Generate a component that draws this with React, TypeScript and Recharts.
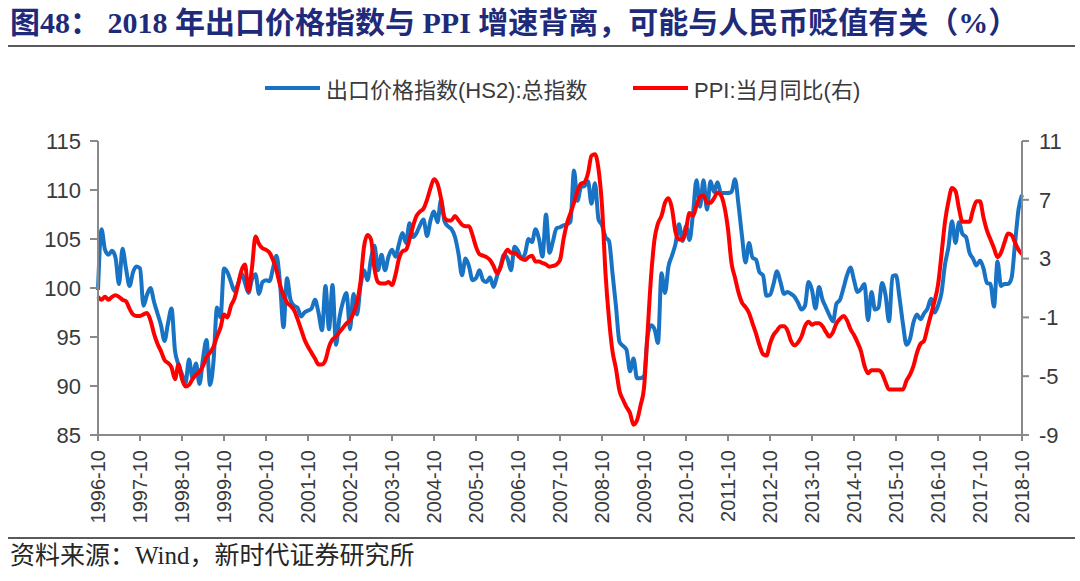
import React from 'react';
import { LineChart, Line, XAxis, YAxis } from 'recharts';

// monthly series, first point is 1996-10, last point 2018-10
const START_YEAR = 1996;
const START_MONTH = 10;

// 出口价格指数(HS2):总指数
const exportPriceIndex = [
  99.8, 106.0, 103.9, 103.4, 103.8, 103.1, 100.4, 104.0, 102.0, 100.2, 101.6, 102.2, // 1996-10
  102.0, 98.2, 99.3, 100.0, 98.6, 97.4, 96.2, 94.6, 96.4, 97.9, 93.6, 92.2, // 1997-10
  91.2, 90.3, 92.7, 90.8, 92.3, 90.2, 92.8, 94.7, 90.1, 92.5, 98.0, 97.0, // 1998-10
  102.0, 101.6, 100.6, 99.7, 100.4, 101.5, 100.5, 99.5, 100.9, 101.4, 99.4, 100.6, // 1999-10
  100.8, 100.7, 102.0, 103.3, 100.5, 96.0, 101.0, 98.8, 98.2, 98.0, 97.1, 97.5, // 2000-10
  97.7, 97.9, 98.8, 97.5, 95.7, 100.2, 95.8, 100.3, 94.2, 97.0, 98.6, 99.5, // 2001-10
  95.8, 99.4, 97.3, 100.2, 101.8, 100.8, 103.0, 104.3, 101.8, 103.4, 101.8, 103.2, // 2002-10
  103.9, 103.2, 104.5, 105.6, 104.6, 106.6, 105.2, 105.6, 106.4, 107.0, 105.3, 106.9, // 2003-10
  107.8, 106.7, 109.0, 106.8, 106.3, 106.0, 105.2, 103.5, 101.3, 103.0, 102.2, 100.8, // 2004-10
  101.0, 101.8, 100.8, 100.6, 101.1, 100.1, 101.2, 102.2, 103.4, 103.0, 101.8, 104.2, // 2005-10
  103.8, 103.0, 103.5, 105.0, 104.7, 106.0, 105.0, 103.2, 107.5, 103.6, 104.8, 106.1, // 2006-10
  106.2, 106.4, 106.5, 106.8, 112.0, 108.9, 110.3, 110.4, 110.9, 108.6, 110.7, 107.0, // 2007-10
  106.4, 105.2, 104.8, 101.5, 98.1, 94.5, 94.1, 93.7, 91.5, 92.8, 90.8, 90.8, // 2008-10
  91.0, 95.0, 96.2, 95.8, 94.4, 101.5, 99.5, 102.2, 103.3, 104.5, 106.5, 104.8, // 2009-10
  106.3, 104.9, 107.6, 111.0, 108.3, 111.0, 108.0, 110.9, 109.8, 110.8, 109.7, 109.7, // 2010-10
  109.7, 109.8, 111.1, 108.5, 105.3, 102.6, 104.6, 103.1, 102.9, 101.6, 101.3, 99.2, // 2011-10
  99.3, 100.4, 101.7, 100.6, 99.4, 99.6, 99.4, 99.1, 98.5, 97.8, 98.2, 100.6, // 2012-10
  99.8, 97.9, 100.1, 98.8, 98.0, 97.2, 96.6, 98.4, 98.8, 100.0, 101.3, 102.1, // 2013-10
  100.8, 99.6, 99.9, 100.4, 96.7, 99.6, 97.8, 98.0, 100.5, 99.3, 96.6, 101.2, // 2014-10
  101.3, 99.0, 96.3, 94.2, 94.8, 96.5, 97.3, 96.8, 97.4, 97.9, 98.9, 97.5, // 2015-10
  98.2, 99.5, 102.4, 104.2, 106.8, 104.6, 106.7, 105.5, 105.2, 103.6, 103.0, 102.3, // 2016-10
  102.8, 102.0, 100.5, 100.4, 98.1, 102.7, 100.2, 100.4, 100.4, 101.0, 104.5, 108.0, // 2017-10
  109.5, // 2018-10
];

// PPI:当月同比, %
const ppiYoY = [
  0.4, 0.2, 0.4, 0.2, 0.4, 0.5, 0.4, 0.2, 0.1, -0.4, -0.8, -0.9, // 1996-10
  -0.9, -0.8, -0.7, -1.2, -2.1, -2.8, -3.3, -3.9, -4.1, -4.4, -5.2, -4.2, // 1997-10
  -5.2, -5.7, -5.6, -5.2, -4.9, -4.7, -4.3, -3.7, -3.4, -3.0, -2.3, -1.7, // 1998-10
  -0.8, -1.0, -0.2, 0.3, 1.2, 2.2, 2.6, 0.8, 2.4, 4.5, 4.0, 3.7, // 1999-10
  3.6, 3.4, 2.9, 2.2, 1.2, 0.5, 0.0, -0.2, -0.5, -1.1, -1.8, -2.5, // 2000-10
  -3.0, -3.4, -3.8, -4.2, -4.2, -3.9, -3.0, -2.5, -2.3, -2.0, -1.7, -1.4, // 2001-10
  -1.2, -0.7, 0.0, 1.4, 3.8, 4.6, 4.3, 2.3, 1.4, 1.3, 1.3, 1.4, // 2002-10
  1.2, 1.9, 3.0, 3.5, 3.6, 4.3, 5.2, 5.9, 6.2, 6.4, 7.0, 7.8, // 2003-10
  8.4, 8.1, 7.1, 5.8, 5.6, 5.6, 5.9, 5.6, 5.3, 5.2, 5.2, 4.6, // 2004-10
  3.8, 3.3, 3.2, 3.1, 2.9, 2.5, 2.0, 2.4, 3.2, 3.6, 3.4, 3.4, // 2005-10
  3.2, 3.0, 2.9, 3.1, 3.2, 2.8, 2.8, 2.7, 2.6, 2.45, 2.5, 2.6, // 2006-10
  2.9, 4.3, 5.4, 6.1, 6.8, 7.6, 8.1, 8.2, 8.8, 10.0, 10.1, 9.1, // 2007-10
  6.6, 2.0, -1.1, -3.3, -4.5, -6.0, -6.6, -7.1, -7.5, -8.3, -8.0, -7.0, // 2008-10
  -5.8, -2.1, 1.7, 4.3, 5.4, 5.9, 6.8, 7.1, 6.4, 4.8, 4.3, 4.3, // 2009-10
  5.0, 6.1, 5.9, 6.6, 7.2, 7.3, 6.8, 6.8, 7.1, 7.5, 7.3, 6.5, // 2010-10
  5.0, 2.7, 1.7, 0.7, 0.0, -0.3, -0.7, -1.4, -2.1, -2.9, -3.5, -3.6, // 2011-10
  -2.8, -2.2, -1.9, -1.6, -1.6, -1.9, -2.6, -2.9, -2.7, -2.3, -1.6, -1.3, // 2012-10
  -1.5, -1.4, -1.4, -1.6, -2.0, -2.3, -2.0, -1.4, -1.1, -0.9, -1.2, -1.8, // 2013-10
  -2.2, -2.7, -3.3, -4.3, -4.8, -4.6, -4.6, -4.6, -4.8, -5.4, -5.9, -5.9, // 2014-10
  -5.9, -5.9, -5.9, -5.3, -4.9, -4.3, -3.4, -2.8, -2.6, -1.7, -0.8, 0.1, // 2015-10
  1.2, 3.3, 5.5, 6.9, 7.8, 7.6, 6.4, 5.5, 5.5, 5.5, 6.3, 6.9, // 2016-10
  6.9, 5.8, 4.9, 4.3, 3.7, 3.1, 3.4, 4.1, 4.7, 4.6, 4.1, 3.6, // 2017-10
  3.3, // 2018-10
];

const leftTicks = [85, 90, 95, 100, 105, 110, 115];
const rightTicks = [-9, -5, -1, 3, 7, 11];

const months = exportPriceIndex.map((_, i) => {
  const n = START_MONTH - 1 + i;
  const year = START_YEAR + Math.floor(n / 12);
  const month = (n % 12) + 1;
  return `${year}-${String(month).padStart(2, '0')}`;
});

const data = months.map((date, i) => ({
  date,
  exportPrice: exportPriceIndex[i],
  ppi: ppiYoY[i],
}));

const BLUE = '#1873c5';
const RED = '#ff0000';
const AXIS = '#898989';
const LABEL = '#3a3a3a';
const LATIN = "'Liberation Sans', 'Noto Sans CJK SC', sans-serif";

const series = [
  { key: 'exportPrice', name: '出口价格指数(HS2):总指数', color: BLUE, left: 265 },
  { key: 'ppi', name: 'PPI:当月同比(右)', color: RED, left: 633 },
];

function MonthTick(props: any) {
  const { x, y, payload } = props;
  return (
    <text
      x={x}
      y={y}
      transform={`rotate(-90, ${x}, ${y})`}
      textAnchor="end"
      dy="0.36em"
      fill={LABEL}
      fontSize={20}
      fontFamily={LATIN}
    >
      {payload.value}
    </text>
  );
}

export default function App() {
  return (
    <div
      style={{
        position: 'absolute',
        left: 0,
        top: 0,
        width: 1080,
        height: 581,
        background: '#fff',
        overflow: 'hidden',
      }}
    >
      <div
        style={{
          position: 'absolute',
          left: 10,
          top: 5,
          fontSize: 30,
          lineHeight: '36px',
          fontWeight: 700,
          color: '#1e2a7a',
          fontFamily: "'Liberation Serif', 'Noto Sans CJK SC', serif",
          whiteSpace: 'nowrap',
        }}
      >
        图48： 2018 年出口价格指数与 PPI 增速背离，可能与人民币贬值有关（%）
      </div>
      <div style={{ position: 'absolute', left: 8, top: 45, width: 1067, borderTop: '2px solid #5a5a5a' }} />

      {series.map((s) => (
        <div
          key={s.key}
          style={{
            position: 'absolute',
            left: s.left,
            top: 74,
            height: 28,
            display: 'flex',
            alignItems: 'center',
            whiteSpace: 'nowrap',
          }}
        >
          <div style={{ width: 55, height: 4, background: s.color, marginRight: 6 }} />
          <span style={{ fontSize: 22, color: LABEL, fontFamily: LATIN }}>{s.name}</span>
        </div>
      ))}

      <div style={{ position: 'absolute', left: 0, top: 0 }}>
        <LineChart
          width={1080}
          height={581}
          data={data}
          margin={{ top: 141, right: 0, bottom: 46, left: 0 }}
        >
          <XAxis
            dataKey="date"
            interval={11}
            height={100}
            tickSize={6}
            tickMargin={9}
            axisLine={{ stroke: AXIS, strokeWidth: 2 }}
            tickLine={{ stroke: AXIS, strokeWidth: 2 }}
            tick={<MonthTick />}
          />
          <YAxis
            yAxisId="left"
            domain={[85, 115]}
            ticks={leftTicks}
            width={98}
            tickSize={8}
            tickMargin={9}
            axisLine={{ stroke: AXIS, strokeWidth: 2 }}
            tickLine={{ stroke: AXIS, strokeWidth: 2 }}
            tick={{ fill: LABEL, fontSize: 22, fontFamily: LATIN }}
          />
          <YAxis
            yAxisId="right"
            orientation="right"
            domain={[-9, 11]}
            ticks={rightTicks}
            width={58}
            tickSize={7}
            tickMargin={10}
            axisLine={{ stroke: AXIS, strokeWidth: 2 }}
            tickLine={{ stroke: AXIS, strokeWidth: 2 }}
            tick={{ fill: LABEL, fontSize: 22, fontFamily: LATIN }}
          />
          <Line
            yAxisId="left"
            type="monotone"
            dataKey="exportPrice"
            name={series[0].name}
            stroke={BLUE}
            strokeWidth={4}
            dot={false}
            isAnimationActive={false}
          />
          <Line
            yAxisId="right"
            type="monotone"
            dataKey="ppi"
            name={series[1].name}
            stroke={RED}
            strokeWidth={4}
            dot={false}
            isAnimationActive={false}
          />
        </LineChart>
      </div>

      <div style={{ position: 'absolute', left: 8, top: 537, width: 1067, borderTop: '2px solid #5a5a5a' }} />
      <div
        style={{
          position: 'absolute',
          left: 10,
          top: 541,
          fontSize: 25,
          lineHeight: '30px',
          color: '#262626',
          fontFamily: "'Liberation Serif', 'Noto Sans CJK SC', serif",
          whiteSpace: 'nowrap',
        }}
      >
        资料来源：Wind，新时代证券研究所
      </div>
    </div>
  );
}
